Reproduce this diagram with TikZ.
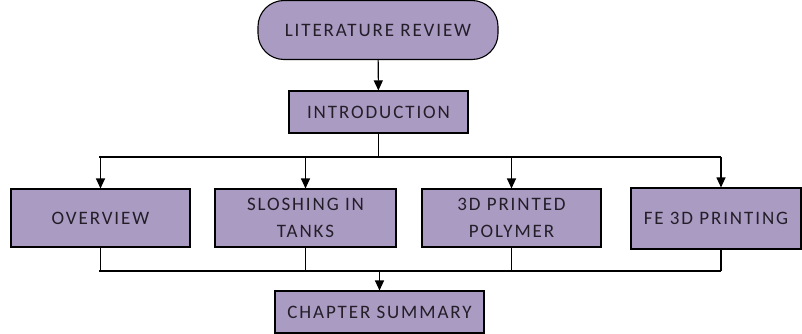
\documentclass[tikz,border=0pt]{standalone}
\usepackage{fontspec}
\setmainfont{Carlito}[LetterSpace=10]
\usetikzlibrary{arrows.meta,positioning,calc}
\definecolor{boxpurple}{RGB}{170,155,195}
\definecolor{boxtext}{RGB}{35,30,40}

\begin{document}
\begin{tikzpicture}[x=1pt, y=1pt, >={Triangle[length=10pt,width=9pt]}, line width=1.1pt]
        \tikzset{chapbox/.style={draw, fill=boxpurple, text=boxtext, align=center, inner sep=0pt, font=\fontsize{19}{26.5}\selectfont}}
        \useasboundingbox (0,0) rectangle (802,333);
        \node[chapbox, rounded corners=26pt, minimum width=240pt, minimum height=59pt] (lit) at (378,303) {LITERATURE REVIEW};
        \node[chapbox, minimum width=179pt, minimum height=42pt] (intro) at (378.5,221) {INTRODUCTION};
        \node[chapbox, minimum width=179pt, minimum height=58pt] (over) at (100.5,115) {OVERVIEW};
        \node[chapbox, minimum width=181pt, minimum height=58pt] (slosh) at (305.5,115) {SLOSHING IN\\TANKS};
        \node[chapbox, minimum width=179pt, minimum height=58pt] (poly) at (511.5,115) {3D PRINTED\\POLYMER};
        \node[chapbox, minimum width=170pt, minimum height=61pt] (fe) at (716,114.5) {FE 3D PRINTING};
        \node[chapbox, minimum width=209pt, minimum height=42pt] (summ) at (379.5,21) {CHAPTER SUMMARY};
        \coordinate (tl) at (99,176);
        \coordinate (tr) at (721,176);
        \coordinate (bl) at (99,62);
        \coordinate (br) at (721,62);
        \draw[->] (lit) -- (intro);
        \draw (intro) -- (intro |- tl);
        \draw (tl) -- (tr);
        \foreach \n in {over,slosh,poly}
            \draw[->] (\n.north |- tl) -- (\n);
        \draw[->] (tr) -- (tr |- fe.north);
        \foreach \n in {over,slosh,poly}
            \draw (\n) -- (\n.south |- bl);
        \draw (br |- fe.south) -- (br);
        \draw (bl) -- (br);
        \draw[->] (summ |- bl) -- (summ);
    \end{tikzpicture}
\end{document}
